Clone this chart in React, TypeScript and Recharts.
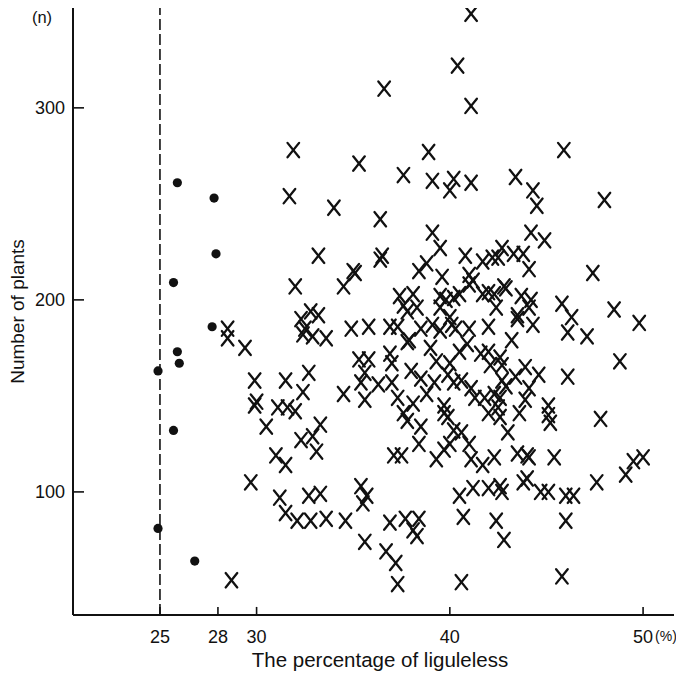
import React from 'react';
import { ScatterChart, Scatter, XAxis, YAxis, ReferenceLine } from 'recharts';

const X_TICKS = [25, 28, 30, 40, 50];
const Y_TICKS = [100, 200, 300];
const X_DOMAIN: [number, number] = [20.5, 51.6];
const Y_DOMAIN: [number, number] = [35.9, 352];
const THRESHOLD = 25;

// filled circles (percentage of liguleless, number of plants)
const dotPoints: [number, number][] = [
  [25.9, 261], [27.8, 253], [27.9, 224], [25.7, 209], [27.7, 186], [25.9, 173],
  [26.0, 167], [24.9, 163], [25.7, 132], [24.9, 81], [26.8, 64],
];

// crosses (percentage of liguleless, number of plants)
const crossPoints: [number, number][] = [
  [41.1, 349], [40.4, 322], [36.6, 310], [41.1, 301], [31.9, 278], [35.3, 271], [38.9, 277], [45.9, 278],
  [37.6, 265], [39.1, 262], [40.2, 263], [40.0, 257], [41.1, 261], [43.4, 264], [44.3, 257], [44.5, 249],
  [48.0, 252], [31.7, 254], [34.0, 248], [36.4, 242], [39.1, 235], [44.2, 235],
  [39.5, 227], [44.9, 231], [40.8, 223], [33.2, 223], [36.5, 223], [36.4, 221], [35.0, 215], [35.1, 214],
  [38.8, 219], [38.4, 215], [39.6, 212], [32.0, 207], [34.5, 207], [41.7, 220], [42.2, 222], [42.5, 222],
  [42.7, 227], [43.3, 224], [43.8, 224], [44.1, 216], [41.0, 213], [41.2, 210], [41.0, 208], [42.0, 204],
  [41.7, 203], [42.3, 203], [42.8, 207], [42.9, 206], [47.4, 214],
  [37.4, 202], [37.6, 197], [38.1, 203], [38.3, 196], [37.8, 194], [43.7, 202], [44.2, 200], [44.1, 196],
  [45.8, 198], [48.5, 195], [39.5, 202], [39.8, 200], [40.2, 201], [40.5, 203], [39.5, 196], [40.0, 191],
  [42.4, 196],
  [32.8, 194], [33.2, 192], [32.3, 190], [32.5, 185], [32.4, 182], [32.9, 181], [33.6, 180], [43.5, 192],
  [43.5, 190], [46.3, 191], [49.8, 188], [44.3, 187], [46.1, 183], [47.1, 181], [43.2, 179], [34.9, 185],
  [35.8, 186], [36.9, 186], [37.3, 186], [37.8, 178], [38.5, 185], [39.1, 187], [39.5, 184], [40.1, 187],
  [40.3, 185], [41.0, 185], [42.0, 186], [37.9, 179], [28.5, 185], [28.5, 180], [29.4, 175],
  [39.0, 175], [39.3, 168], [40.0, 167], [40.5, 173], [40.9, 177], [41.6, 172], [42.0, 173], [42.1, 166],
  [42.6, 170], [42.7, 166], [48.8, 168],
  [35.3, 169], [35.8, 169], [35.6, 162], [35.4, 157], [36.9, 172], [37.0, 167], [38.0, 163], [38.5, 159],
  [38.8, 151], [39.2, 157], [39.9, 161], [40.2, 157], [40.6, 158], [41.1, 154], [41.3, 149], [41.8, 149],
  [42.3, 151], [42.6, 149], [42.5, 144], [42.7, 158], [42.9, 155], [43.4, 160], [43.9, 165], [44.6, 161],
  [44.1, 154], [43.9, 148], [45.1, 145], [45.1, 140], [45.2, 136], [46.1, 160],
  [31.5, 158], [32.7, 162], [32.4, 152], [29.9, 158], [30.0, 147], [29.9, 145], [31.1, 144], [31.6, 144],
  [32.0, 142],
  [34.5, 151], [35.6, 148], [36.3, 156], [37.0, 157], [37.3, 149], [38.1, 146], [39.7, 145], [39.7, 141],
  [37.6, 141], [42.0, 141], [43.6, 141], [42.6, 139], [43.0, 131], [47.8, 138],
  [33.3, 135], [32.3, 127], [32.9, 129], [33.1, 121], [31.5, 114], [30.5, 134], [31.0, 119],
  [37.8, 137], [38.5, 134], [38.4, 125], [37.1, 119], [37.5, 119], [39.9, 139], [40.2, 132], [40.6, 131],
  [40.0, 125], [39.7, 122], [39.3, 117], [41.0, 125], [41.1, 117], [41.7, 114], [42.3, 118], [43.5, 120],
  [44.0, 119], [44.1, 118], [45.4, 118],
  [40.5, 98], [41.2, 102], [42.0, 102], [42.6, 103], [42.7, 100], [43.8, 105], [44.0, 107], [44.7, 100],
  [45.1, 100], [46.0, 98], [46.4, 98], [47.6, 105], [49.1, 109], [49.5, 116], [50.0, 118], [40.7, 87],
  [42.4, 85], [42.8, 75], [46.0, 85], [40.6, 53], [45.8, 56],
  [31.2, 97], [31.5, 89], [32.7, 98], [33.3, 99], [32.1, 85], [32.8, 85], [33.6, 86], [34.6, 85],
  [35.4, 103], [35.7, 98], [35.5, 94], [36.9, 84], [37.7, 86], [38.4, 86], [38.1, 80], [38.3, 77],
  [35.6, 74], [36.7, 69], [37.2, 63], [37.3, 52], [29.7, 105], [28.7, 54],
];

const dotData = dotPoints.map(([x, y]) => ({ x, y }));
const crossData = crossPoints.map(([x, y]) => ({ x, y }));

const INK = '#111';
const FONT = '"Liberation Sans", Arial, Helvetica, sans-serif';
const X_TICK_MARGIN = 15;
const Y_TICK_MARGIN = 8;
// inward tick-mark lengths expressed in axis units (~8 px and ~11 px)
const X_TICK_LEN = 4.2;
const Y_TICK_LEN = 0.57;

const renderCross = (props: any) => {
  const { cx, cy } = props;
  if (cx == null || cy == null) return <g />;
  const hw = 5.8;
  const hh = 7.2;
  return (
    <g>
      <line x1={cx - hw} y1={cy - hh} x2={cx + hw} y2={cy + hh} stroke={INK} strokeWidth={2.3} strokeLinecap="round" />
      <line x1={cx + hw} y1={cy - hh} x2={cx - hw} y2={cy + hh} stroke={INK} strokeWidth={2.3} strokeLinecap="round" />
    </g>
  );
};

const renderDot = (props: any) => {
  const { cx, cy } = props;
  if (cx == null || cy == null) return <g />;
  return <circle cx={cx} cy={cy} r={4.6} fill={INK} />;
};

const XTick = (props: any) => {
  const x = Number(props.x);
  const y = Number(props.y);
  const { payload } = props;
  return (
    <g>
      <text x={x} y={y} dy="0.71em" textAnchor="middle" fontSize={18} fill={INK} fontFamily={FONT}>
        {payload.value}
      </text>
      {payload.value === 50 && (
        <text x={x + 12} y={y + 1} dy="0.71em" textAnchor="start" fontSize={14} fill={INK} fontFamily={FONT}>
          (%)
        </text>
      )}
    </g>
  );
};

const YTick = (props: any) => {
  const x = Number(props.x);
  const y = Number(props.y);
  const { payload } = props;
  return (
    <text x={x} y={y} dy="0.36em" textAnchor="end" fontSize={18} fill={INK} fontFamily={FONT}>
      {payload.value}
    </text>
  );
};

const XLabel = (props: any) => {
  const vb = props.viewBox || { x: 65, y: 607, width: 601, height: 59 };
  return (
    <text x={vb.x + vb.width / 2 + 6.5} y={vb.y + 52} textAnchor="middle" fontSize={20.5} fill={INK} fontFamily={FONT}>
      The percentage of liguleless
    </text>
  );
};

const YLabel = (props: any) => {
  const vb = props.viewBox || { x: 0, y: 0, width: 65, height: 607 };
  const cx = vb.x + 9;
  const cy = vb.y + vb.height / 2;
  return (
    <g>
      <text
        x={cx}
        y={cy}
        transform={`rotate(-90 ${cx} ${cy})`}
        dy="0.35em"
        textAnchor="middle"
        fontSize={19}
        fill={INK}
        fontFamily={FONT}
      >
        Number of plants
      </text>
      <text x={vb.x + 34} y={vb.y + 15} textAnchor="middle" fontSize={16.5} fill={INK} fontFamily={FONT}>
        (n)
      </text>
    </g>
  );
};

export default function App() {
  return (
    <ScatterChart width={676} height={666} margin={{ top: 0, right: 10, bottom: 0, left: 0 }}>
      <XAxis
        type="number"
        dataKey="x"
        domain={X_DOMAIN}
        ticks={X_TICKS}
        interval={0}
        allowDataOverflow
        height={59}
        tickSize={0}
        tickMargin={X_TICK_MARGIN}
        axisLine={{ stroke: INK, strokeWidth: 2 }}
        tickLine={false}
        tick={<XTick />}
        label={{ content: XLabel }}
      />
      <YAxis
        type="number"
        dataKey="y"
        domain={Y_DOMAIN}
        ticks={Y_TICKS}
        interval={0}
        allowDataOverflow
        width={65}
        tickSize={0}
        tickMargin={Y_TICK_MARGIN}
        axisLine={{ stroke: INK, strokeWidth: 2 }}
        tickLine={false}
        tick={<YTick />}
        label={{ content: YLabel }}
      />
      {X_TICKS.map((t) => (
        <ReferenceLine
          key={`xt-${t}`}
          segment={[{ x: t, y: Y_DOMAIN[0] }, { x: t, y: Y_DOMAIN[0] + X_TICK_LEN }]}
          stroke={INK}
          strokeWidth={1.6}
          ifOverflow="extendDomain"
        />
      ))}
      {Y_TICKS.map((t) => (
        <ReferenceLine
          key={`yt-${t}`}
          segment={[{ x: X_DOMAIN[0], y: t }, { x: X_DOMAIN[0] + Y_TICK_LEN, y: t }]}
          stroke={INK}
          strokeWidth={1.6}
          ifOverflow="extendDomain"
        />
      ))}
      <ReferenceLine x={THRESHOLD} stroke={INK} strokeWidth={1.6} strokeDasharray="11 4" />
      <Scatter data={crossData} shape={renderCross} isAnimationActive={false} />
      <Scatter data={dotData} shape={renderDot} isAnimationActive={false} />
    </ScatterChart>
  );
}
